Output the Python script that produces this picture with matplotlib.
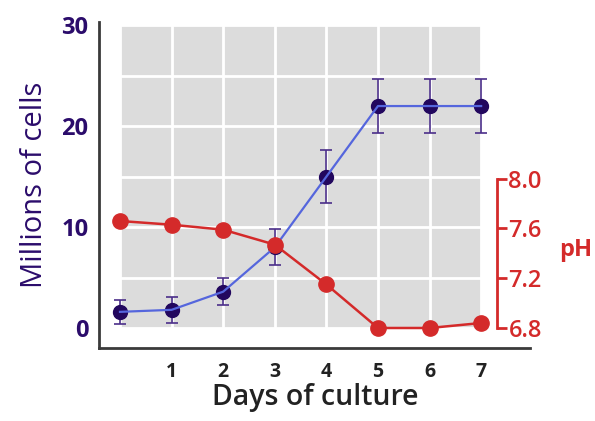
import matplotlib.pyplot as plt
from matplotlib.patches import Rectangle

days = [0, 1, 2, 3, 4, 5, 6, 7]
day_labels = ["", "1", "2", "3", "4", "5", "6", "7"]
cells = [1.6, 1.8, 3.6, 8.0, 15.0, 22.0, 22.0, 22.0]
cells_err = [1.2, 1.3, 1.35, 1.8, 2.6, 2.7, 2.7, 2.7]
ph = [7.66, 7.63, 7.59, 7.47, 7.15, 6.80, 6.80, 6.84]
ph_ticks = [6.8, 7.2, 7.6, 8.0]

purple = "#2b0c6b"
red = "#d42a2a"

plt.rcParams['font.family'] = ['Open Sans', 'DejaVu Sans']

fig = plt.figure(figsize=(5.95, 4.21), dpi=100)
ax = fig.add_axes([0.167, 0.173, 0.724, 0.774])

ax.set_xlim(-0.4, 7.95)
ax.set_ylim(-2, 30.3)

# gray plotting area with white grid
ax.add_patch(Rectangle((days[0], 0), days[-1] - days[0], 30,
                       facecolor="#dcdcdc", edgecolor="none", zorder=0.1))
ax.set_axisbelow(True)
ax.set_xticks(days)
ax.set_xticklabels(day_labels)
ax.set_yticks([0, 10, 20, 30])
ax.set_yticks([5, 15, 25], minor=True)
ax.grid(True, which="both", color="white", linewidth=2)
ax.tick_params(axis="both", which="both", length=0)
ax.tick_params(axis="y", labelcolor=purple, labelsize=17, pad=8)
ax.tick_params(axis="x", labelcolor="#222222", labelsize=14, pad=10)
for lbl in ax.get_yticklabels():
    lbl.set_fontweight("bold")
for lbl in ax.get_xticklabels():
    lbl.set_fontweight("bold")

for s in ["top", "right"]:
    ax.spines[s].set_visible(False)
for s in ["left", "bottom"]:
    ax.spines[s].set_color("#3a3a3a")
    ax.spines[s].set_linewidth(2)

ax.errorbar(days, cells, yerr=cells_err, fmt="none", ecolor="#4b2f8a",
            elinewidth=1.2, capsize=4.3, capthick=1.2, zorder=3)
ax.plot(days, cells, "o", color="#22075e", markersize=10, zorder=4)
ax.plot(days, cells, "-", color="#5566dd", linewidth=1.6, zorder=5)

ax.set_ylabel("Millions of cells", color=purple, fontsize=21, labelpad=9)
ax.set_xlabel("Days of culture", color="#222222", fontsize=20.5,
              fontweight="semibold", labelpad=1)

# pH axis
ax2 = ax.twinx()
ax2.set_ylim(6.8 - 2 * 1.2 / 14.8, 6.8 + 30.3 * 1.2 / 14.8)
for s in ["top", "left", "bottom"]:
    ax2.spines[s].set_visible(False)
ax2.spines["right"].set_position(("axes", (7.3 + 0.4) / 8.35))
ax2.spines["right"].set_bounds(ph_ticks[0], ph_ticks[-1])
ax2.spines["right"].set_color(red)
ax2.spines["right"].set_linewidth(2)
ax2.set_yticks(ph_ticks)
ax2.set_yticklabels([f"{v:.1f}" for v in ph_ticks])
ax2.tick_params(axis="y", colors=red, labelsize=17, length=7, width=2, pad=1.5)
for lbl in ax2.get_yticklabels():
    lbl.set_fontweight("semibold")

ax2.plot(days, ph, "-", color=red, linewidth=1.8, zorder=3)
ax2.plot(days, ph, "o", color=red, markersize=11, zorder=4)

fig.text(0.94, 0.405, "pH", color=red, fontsize=17, fontweight="bold",
         ha="left", va="center")

fig.savefig("out.png", dpi=100)
